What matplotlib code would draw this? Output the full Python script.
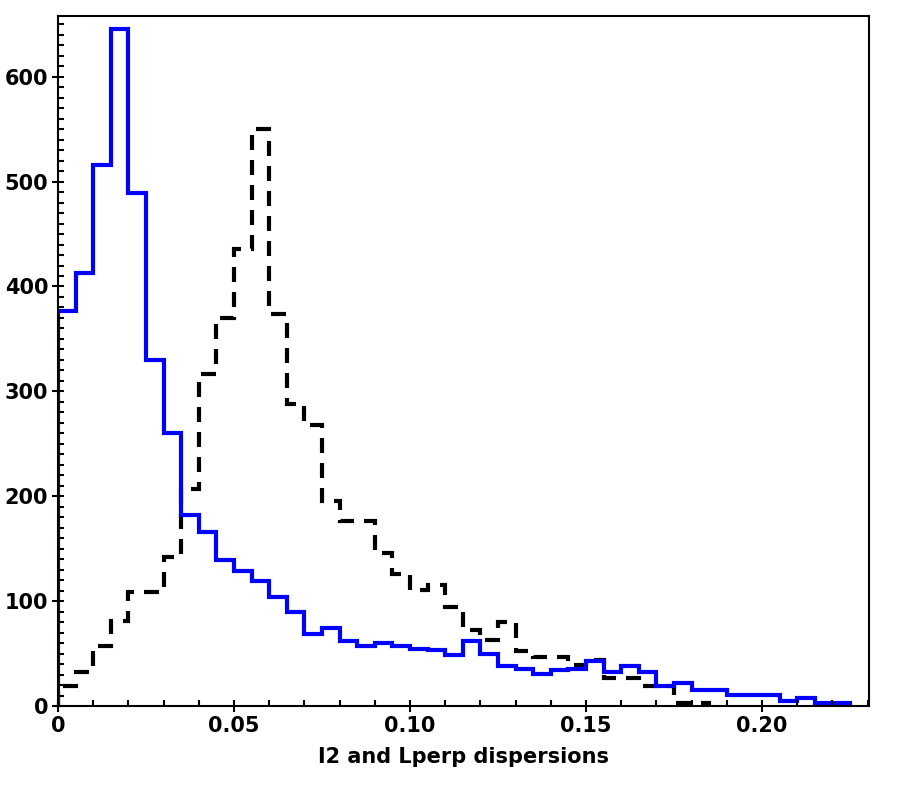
import matplotlib.pyplot as plt
import numpy as np
from matplotlib.ticker import MultipleLocator

bin_width = 0.005

# I2 dispersion counts (blue, solid)
i2_counts = [377, 413, 516, 645, 489, 330, 260, 182, 166, 139,
             129, 119, 104, 90, 69, 75, 62, 57, 60, 57,
             55, 54, 49, 62, 50, 38, 36, 31, 35, 36,
             43, 33, 38, 33, 19, 22, 16, 16, 11, 11,
             11, 5, 8, 3, 3]

# Lperp dispersion counts (black, dashed)
lperp_counts = [19, 33, 57, 81, 109, 109, 142, 207, 317, 370,
                436, 550, 374, 288, 268, 196, 177, 177, 146, 126,
                111, 116, 95, 73, 63, 80, 53, 47, 47, 39,
                44, 27, 27, 19, 19, 3, 3]

i2_edges = np.arange(len(i2_counts) + 1) * bin_width
lperp_edges = np.arange(len(lperp_counts) + 1) * bin_width

plt.rcParams['font.family'] = 'DejaVu Sans'
plt.rcParams['font.weight'] = 'bold'

fig = plt.figure(figsize=(9.03, 7.86), dpi=100)
ax = fig.add_axes([0.0642, 0.1014, 0.8981, 0.8786])

ax.stairs(lperp_counts, lperp_edges, color='black', linewidth=3,
          linestyle=(0, (3.6, 2.4)), baseline=0)
ax.stairs(i2_counts, i2_edges, color='blue', linewidth=3, baseline=0)

ax.set_xlim(0, 0.2304)
ax.set_ylim(0, 658)

ax.xaxis.set_minor_locator(MultipleLocator(0.01))
ax.yaxis.set_major_locator(MultipleLocator(100))
ax.yaxis.set_minor_locator(MultipleLocator(10))
ax.set_xticks([0, 0.05, 0.10, 0.15, 0.20])
ax.set_xticklabels(['0', '0.05', '0.10', '0.15', '0.20'])

ax.tick_params(which='both', top=False, right=False,
               labelsize=15, width=1.5)
ax.tick_params(which='major', direction='inout', length=8, pad=3)
ax.tick_params(which='minor', direction='in', length=4)
for lbl in ax.get_xticklabels() + ax.get_yticklabels():
    lbl.set_fontweight('bold')
for s in ax.spines.values():
    s.set_linewidth(1.5)

ax.set_xlabel('I2 and Lperp dispersions', fontsize=15, fontweight='bold', labelpad=8)

fig.savefig('out.png', dpi=100)
